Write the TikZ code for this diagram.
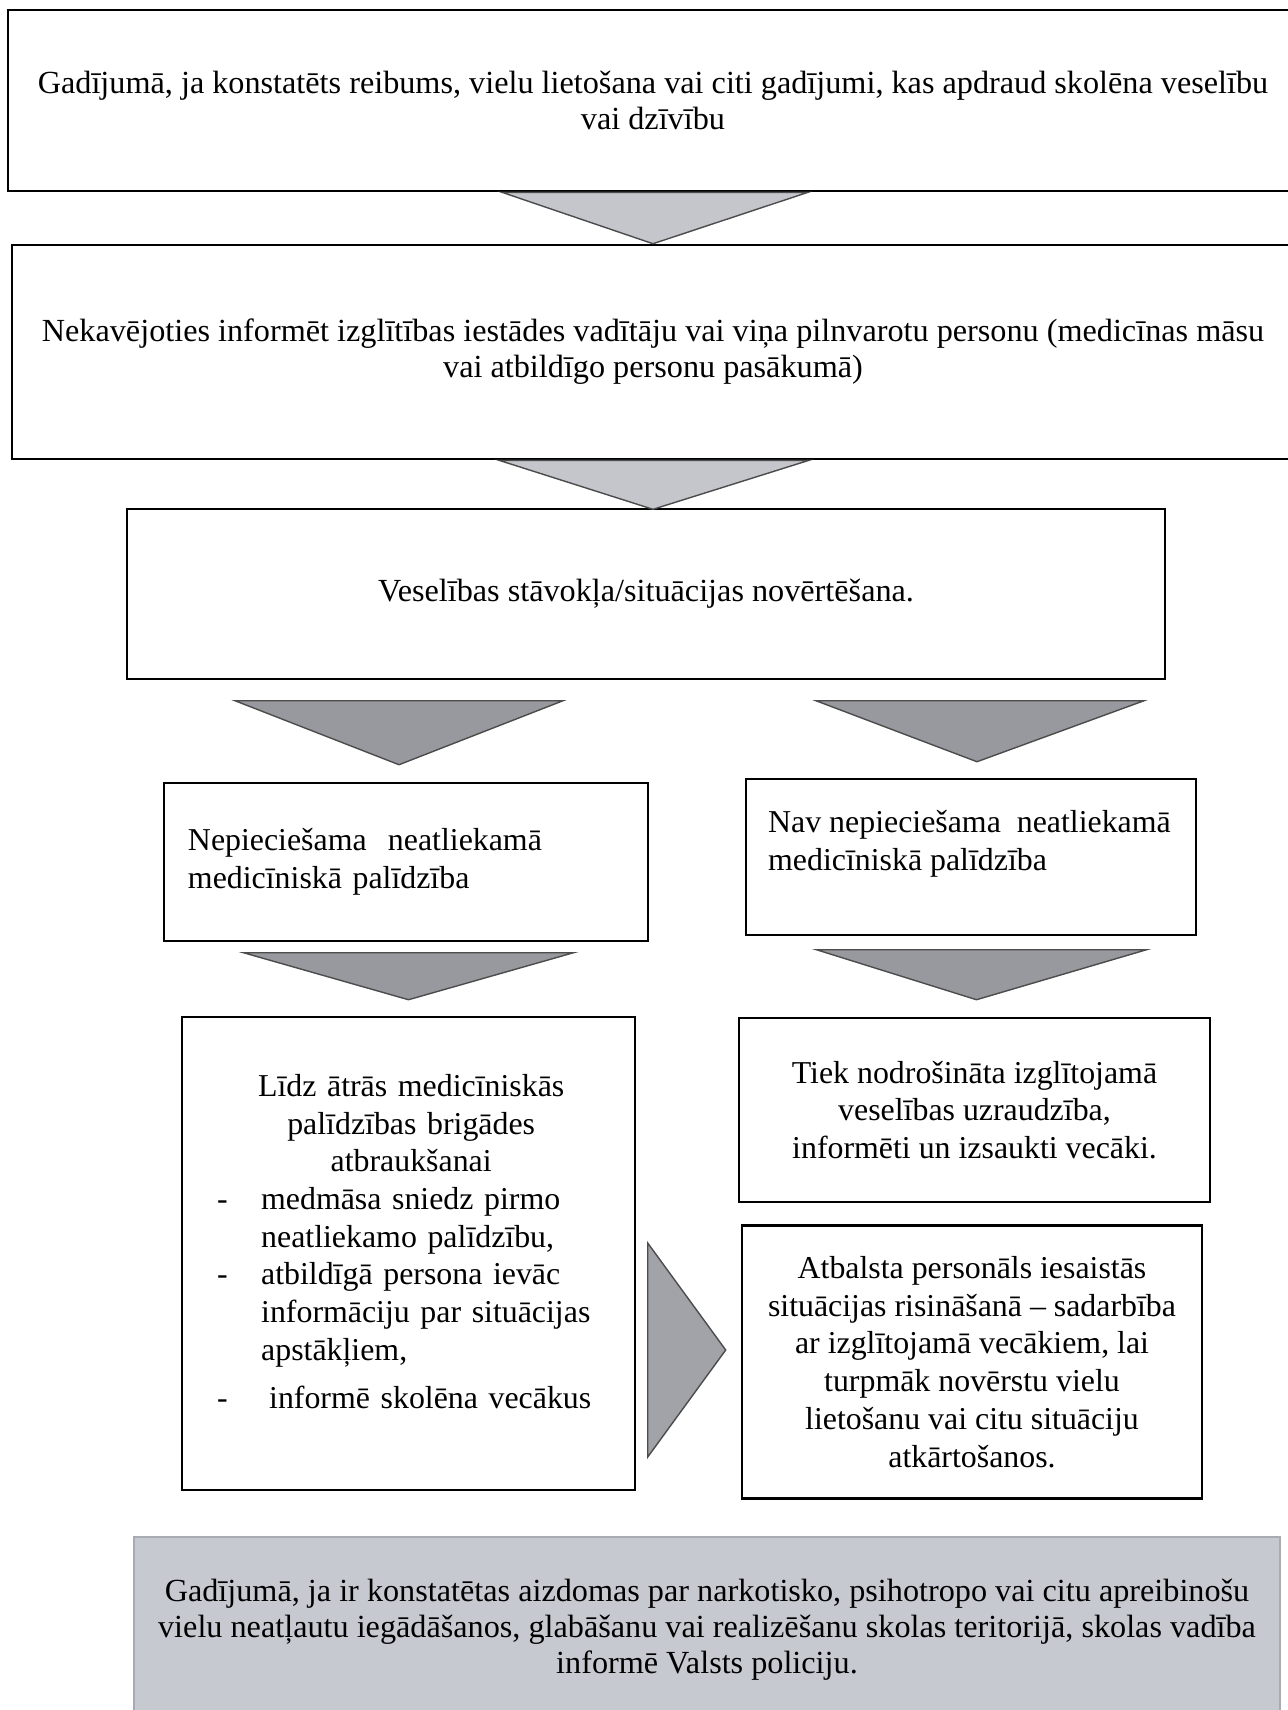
\documentclass[tikz,border=0pt]{standalone}
\usepackage{fontspec}
\setmainfont{Liberation Serif}
\usetikzlibrary{calc, positioning}
\definecolor{trilight}{RGB}{196,198,204}
\definecolor{tridark}{RGB}{152,153,158}
\definecolor{notegray}{RGB}{198,201,208}

\begin{document}
\begin{tikzpicture}[
    x=0.15mm, y=-0.15mm,
    box/.style args={#1 by #2}{draw, line width=1.1pt, minimum width=#1*0.15mm, minimum height=#2*0.15mm, inner sep=0pt},
    big/.style={font=\fontsize{13.75}{15.4}\selectfont, align=center},
    small/.style={font=\fontsize{13.6}{16.1}\selectfont},
    tri/.style={draw=black!70, line width=0.6pt},
]
    \useasboundingbox[fill=white] (0,0) rectangle (1288,1710);

    % main column
    \node[box={1290 by 181}, big] (alert) at (653,100.5) {Gadījumā, ja konstatēts reibums, vielu lietošana vai citi gadījumi, kas apdraud skolēna veselību\\vai dzīvību};
    \node[box={1282 by 214}, big] (inform) at (653,352) {Nekavējoties informēt izglītības iestādes vadītāju vai viņa pilnvarotu personu (medicīnas māsu\\vai atbildīgo personu pasākumā)};
    \node[box={1038 by 170}, big] (eval) at (646,594) {Veselības stāvokļa/situācijas novērtēšana.};

    % two branches
    \node[box={484 by 158}, small, align=left, text width=65.4mm] (yes) at (406,862) {Nepieciešama\ \ neatliekamā\\medicīniskā palīdzība};
    \node[box={450 by 156}] (no) at (971,857) {};
    \node[small, align=left, anchor=north west, inner sep=0pt] (notxt) at ($(no.north west)+(23,32)$) {Nav nepieciešama\ \ neatliekamā\\medicīniskā palīdzība};

    \node[box={453 by 473}] (act) at (408.5,1253.5) {};
    \node[small, anchor=north west, inner sep=0pt, text width=58.2mm] (acttxt) at ($(act.north west)+(36,58)$) {%
        {\centering Līdz ātrās medicīniskās\par palīdzības brigādes\par atbraukšanai\par}
        \raggedright\parindent=0pt
        \makebox[6.6mm][l]{-}medmāsa sniedz pirmo\par
        \hspace*{6.6mm}neatliekamo palīdzību,\par
        \makebox[6.6mm][l]{-}atbildīgā persona ievāc\par
        \hspace*{6.6mm}informāciju par situācijas\par
        \hspace*{6.6mm}apstākļiem,\par
        \vspace{1.5mm}
        \makebox[6.6mm][l]{-}\hspace{1.2mm}informē skolēna vecākus\par};

    \node[box={471 by 184}, small, align=center] (watch) at (974.5,1110) {Tiek nodrošināta izglītojamā\\veselības uzraudzība,\\informēti un izsaukti vecāki.};
    \node[box={460 by 273}, small, align=center] (support) at (972,1362) {Atbalsta personāls iesaistās\\situācijas risināšanā – sadarbība\\ar izglītojamā vecākiem, lai\\turpmāk novērstu vielu\\lietošanu vai citu situāciju\\atkārtošanos.};

    \node[box={1146 by 186}, draw=notegray!85!black, line width=0.6pt, fill=notegray, big] (police) at (707,1630) {Gadījumā, ja ir konstatētas aizdomas par narkotisko, psihotropo vai citu apreibinošu\\vielu neatļautu iegādāšanos, glabāšanu vai realizēšanu skolas teritorijā, skolas vadība\\informē Valsts policiju.};

    % arrows
    \filldraw[tri, fill=trilight] ($(alert.south)+(-151,0)$) -- ($(alert.south)+(155,0)$) -- (inform.north) -- cycle;
    \filldraw[tri, fill=trilight] ($(inform.south)+(-154,0)$) -- ($(inform.south)+(156,0)$) -- ($(inform.south)+(0,49)$) -- cycle;
    \filldraw[tri, fill=tridark] ($(yes.north)+(-171,-81)$) -- ($(yes.north)+(157,-81)$) -- ($(yes.north)+(-7,-17)$) -- cycle;
    \filldraw[tri, fill=tridark] ($(no.north)+(-155,-77)$) -- ($(no.north)+(173,-77)$) -- ($(no.north)+(6,-16)$) -- cycle;
    \filldraw[tri, fill=tridark] ($(act.north)+(-165,-63)$) -- ($(act.north)+(165,-63)$) -- ($(act.north)+(0,-16)$) -- cycle;
    \filldraw[tri, fill=tridark] ($(watch.north)+(-158,-67)$) -- ($(watch.north)+(172,-67)$) -- ($(watch.north)+(2,-17)$) -- cycle;
    \filldraw[tri, fill=tridark!90!white] ($(support.west)+(-93,-119)$) -- ($(support.west)+(-15,-12)$) -- ($(support.west)+(-93,95)$) -- cycle;
\end{tikzpicture}
\end{document}
